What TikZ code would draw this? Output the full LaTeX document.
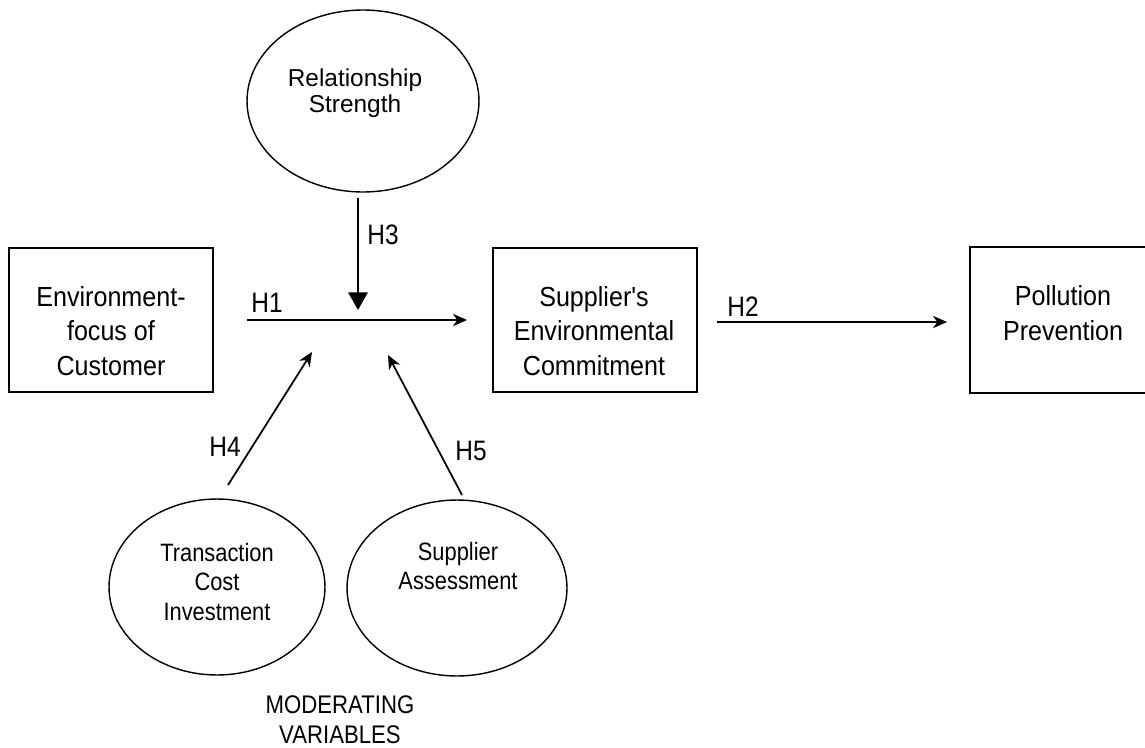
\documentclass[tikz,border=0pt]{standalone}
\usepackage{fontspec}
\setmainfont{Liberation Sans}
\newfontfamily\narrowsf[FakeStretch=0.87]{Liberation Sans}
\newfontfamily\boxsf[FakeStretch=0.91]{Liberation Sans}
\usetikzlibrary{shapes.geometric,arrows.meta,positioning}

\tikzset{
  box/.style={draw, line width=1.1pt, minimum width=4.08cm, minimum height=2.88cm, inner sep=0pt},
  oval/.style={draw, ellipse, line width=0.8pt, inner sep=0pt},
  boxtext/.style={font=\boxsf\fontsize{15.7}{19.6}\selectfont, align=center},
  ovaltext/.style={font=\narrowsf\fontsize{14.3}{17}\selectfont, align=center},
  hyp/.style={font=\narrowsf\fontsize{16}{19}\selectfont},
  link/.style={line width=1pt, -{Stealth[length=8pt, width=7pt, inset=2.5pt]}}
}

\begin{document}
\begin{tikzpicture}[x=0.02cm, y=-0.02cm]
  \useasboundingbox (0,0) rectangle (1145,747);

  % Main path
  \node[box] (efc) at (111,320) {};
  \node[box] (sec) at (595,320) {};
  \node[box, draw=none] (pp) at (1073,320) {};
  \draw[line width=1.1pt] (pp.north east) -| (pp.south west) -- (pp.south east);
  \node[boxtext] (efctxt) at (111,331) {Environment-\\focus of\\Customer};
  \node[boxtext] (sectxt) at (594,331) {Supplier's\\Environmental\\Commitment};
  \node[boxtext] (pptxt) at (1063,313) {Pollution\\Prevention};

  % Moderators
  \node[oval, minimum width=4.64cm, minimum height=3.64cm] (rs) at (363,101) {};
  \node[oval, minimum width=4.32cm, minimum height=3.52cm] (tci) at (217,587) {};
  \node[oval, minimum width=4.4cm, minimum height=3.52cm] (sa) at (457,588) {};
  \node[font=\fontsize{13.9}{14.8}\selectfont, align=center] (rstxt) at (355,93) {Relationship\\Strength};
  \node[ovaltext] (tcitxt) at (217,582) {Transaction\\Cost\\Investment};
  \node[ovaltext] (satxt) at (458,566) {Supplier\\Assessment};
  \node[font=\narrowsf\fontsize{14.5}{17}\selectfont, align=center] (modtxt) at (340,720) {MODERATING\\VARIABLES};

  % Arrow ends
  \coordinate (h1s) at (247,320);
  \coordinate (h1e) at (467,320);
  \coordinate (h2s) at (717,322);
  \coordinate (h2e) at (947,322);
  \coordinate (h3s) at (358,198);
  \coordinate (h3e) at (358,310);
  \coordinate (h4s) at (228,485);
  \coordinate (h4e) at (312,352);
  \coordinate (h5s) at (462,495);
  \coordinate (h5e) at (388,355);

  \draw[link, line width=1.1pt] (h1s) -- (h1e);
  \draw[link, line width=1.1pt] (h2s) -- (h2e);
  \draw[line width=1pt, -{Triangle[length=10pt, width=11pt]}] (h3s) -- (h3e);
  \draw[link] (h4s) -- (h4e);
  \draw[link] (h5s) -- (h5e);

  % Hypothesis labels
  \node[hyp] (h1) at (267,303) {H1};
  \node[hyp] (h2) at (743,307) {H2};
  \node[hyp] (h3) at (383,235) {H3};
  \node[hyp] (h4) at (225,447) {H4};
  \node[hyp] (h5) at (471,451) {H5};
\end{tikzpicture}
\end{document}
